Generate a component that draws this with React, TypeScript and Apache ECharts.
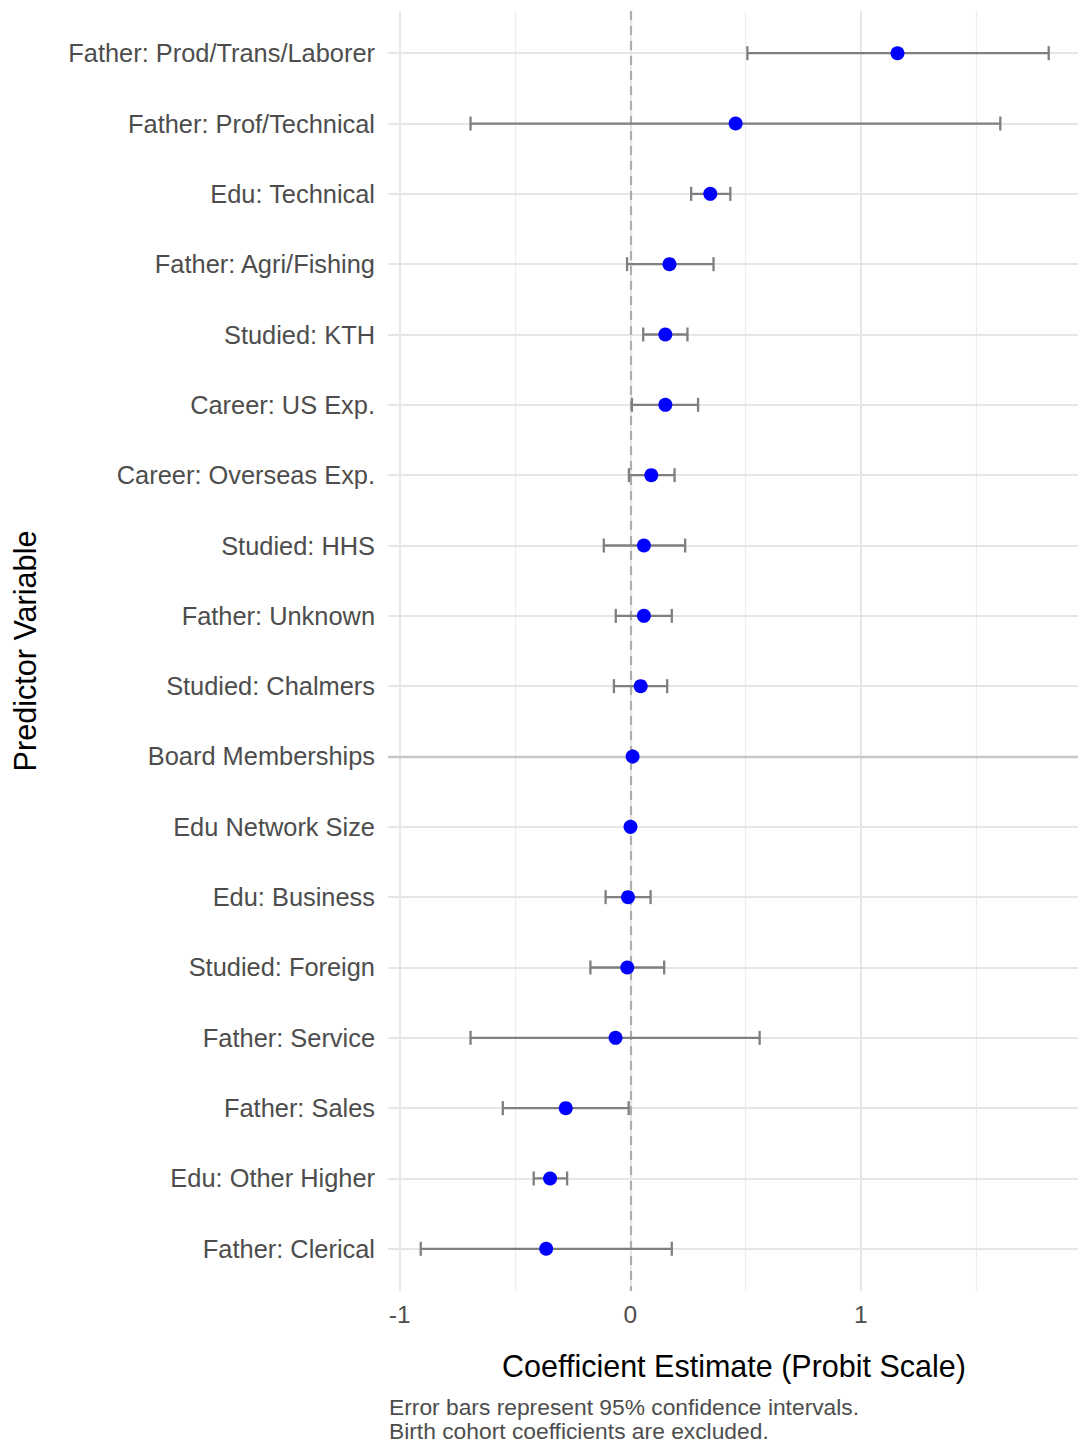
import React, { useEffect, useRef } from "react";
import * as echarts from "echarts";

const categories = [
  "Father: Prod/Trans/Laborer",
  "Father: Prof/Technical",
  "Edu: Technical",
  "Father: Agri/Fishing",
  "Studied: KTH",
  "Career: US Exp.",
  "Career: Overseas Exp.",
  "Studied: HHS",
  "Father: Unknown",
  "Studied: Chalmers",
  "Board Memberships",
  "Edu Network Size",
  "Edu: Business",
  "Studied: Foreign",
  "Father: Service",
  "Father: Sales",
  "Edu: Other Higher",
  "Father: Clerical",
];
const estimates = [1.159, 0.457, 0.347, 0.17, 0.152, 0.152, 0.091, 0.059, 0.059, 0.045, 0.01, 0.001, -0.01, -0.013, -0.064, -0.28, -0.348, -0.365];
const lower = [0.508, -0.693, 0.264, -0.014, 0.056, 0.007, -0.006, -0.115, -0.063, -0.071, 0.008, 0.0, -0.107, -0.173, -0.693, -0.553, -0.419, -0.909];
const upper = [1.815, 1.605, 0.434, 0.361, 0.248, 0.294, 0.192, 0.238, 0.18, 0.16, 0.012, 0.002, 0.088, 0.147, 0.561, -0.007, -0.274, 0.18];
const majorTicks = [-1, 0, 1];
const minorTicks = [-0.5, 0.5, 1.5];
const emphasizedRows = ["Board Memberships"];
const xTitle = "Coefficient Estimate (Probit Scale)";
const yTitle = "Predictor Variable";
const captionLines = ["Error bars represent 95% confidence intervals.", "Birth cohort coefficients are excluded."];

const FONT = "Liberation Sans, Arial, Helvetica, sans-serif";

export default function App() {
  const ref = useRef<HTMLDivElement>(null);
  useEffect(() => {
    document.body.style.margin = "0";
    if (!ref.current) return;
    const chart = echarts.init(ref.current, null, { renderer: "svg" });
    const idx = categories.map((_, i) => i);
    const gridLines: any[] = [];
    majorTicks.forEach((v) =>
      gridLines.push({ xAxis: v, lineStyle: { color: "#e6e6e6", width: 2, type: "solid" } })
    );
    minorTicks.forEach((v) =>
      gridLines.push({ xAxis: v, lineStyle: { color: "#ededed", width: 1.3, type: "solid" } })
    );
    idx.forEach((i) =>
      gridLines.push({
        yAxis: i,
        lineStyle: emphasizedRows.includes(categories[i])
          ? { color: "#c6c6c6", width: 2.4, type: "solid" }
          : { color: "#e6e6e6", width: 2, type: "solid" },
      })
    );

    const option: any = {
      animation: false,
      backgroundColor: "#ffffff",
      grid: { left: 388, right: 0, top: 11, height: 1280 },
      xAxis: {
        type: "value",
        min: -1.051,
        max: 1.942,
        axisLine: { show: false },
        axisTick: { show: false },
        splitLine: { show: false },
        axisLabel: {
          customValues: majorTicks,
          color: "#4d4d4d",
          fontSize: 24.5,
          fontFamily: FONT,
          margin: 11,
          formatter: (v: number) => String(v),
        },
      },
      yAxis: {
        type: "value",
        inverse: true,
        min: -0.6,
        max: 17.6,
        axisLine: { show: false },
        axisTick: { show: false },
        splitLine: { show: false },
        axisLabel: {
          customValues: idx,
          color: "#4d4d4d",
          fontSize: 25.4,
          fontFamily: FONT,
          margin: 13,
          formatter: (v: number) => categories[Math.round(v)] ?? "",
        },
      },
      series: [
        {
          type: "scatter",
          data: [],
          silent: true,
          z: 1,
          markLine: {
            z: 1,
            silent: true,
            symbol: "none",
            label: { show: false },
            data: gridLines,
          },
        },
        {
          type: "scatter",
          data: [],
          silent: true,
          z: 2,
          markLine: {
            z: 2,
            silent: true,
            symbol: "none",
            label: { show: false },
            data: [{ xAxis: 0, lineStyle: { color: "#adadad", width: 2.2, type: [9, 6] } }],
          },
        },
        {
          type: "custom",
          z: 3,
          silent: true,
          data: idx.map((i) => [lower[i], upper[i], i]),
          encode: { x: [0, 1], y: 2 },
          renderItem: (params: any, api: any) => {
            const lo = api.value(0);
            const hi = api.value(1);
            const row = api.value(2);
            const p1 = api.coord([lo, row]);
            const p2 = api.coord([hi, row]);
            const st = { stroke: "#7f7f7f", lineWidth: 2.3 };
            const h = 7;
            return {
              type: "group",
              children: [
                { type: "line", shape: { x1: p1[0], y1: p1[1], x2: p2[0], y2: p2[1] }, style: st },
                { type: "line", shape: { x1: p1[0], y1: p1[1] - h, x2: p1[0], y2: p1[1] + h }, style: st },
                { type: "line", shape: { x1: p2[0], y1: p2[1] - h, x2: p2[0], y2: p2[1] + h }, style: st },
              ],
            };
          },
        },
        {
          type: "scatter",
          z: 4,
          symbol: "circle",
          symbolSize: 14,
          itemStyle: { color: "#0000ff", opacity: 1 },
          data: idx.map((i) => [estimates[i], i]),
        },
      ],
      graphic: [
        {
          type: "text",
          x: 734,
          y: 1366,
          style: {
            text: xTitle,
            fill: "#000000",
            font: `30.5px ${FONT}`,
            textAlign: "center",
            textVerticalAlign: "middle",
          },
        },
        {
          type: "text",
          x: 25,
          y: 651,
          rotation: Math.PI / 2,
          style: {
            text: yTitle,
            fill: "#000000",
            font: `30.6px ${FONT}`,
            textAlign: "center",
            textVerticalAlign: "middle",
          },
        },
        ...captionLines.map((t, k) => ({
          type: "text",
          x: 389,
          y: 1407 + k * 24,
          style: {
            text: t,
            fill: "#4d4d4d",
            font: `22.8px ${FONT}`,
            textAlign: "left",
            textVerticalAlign: "middle",
          },
        })),
      ],
    };
    chart.setOption(option);
    return () => chart.dispose();
  }, []);
  return <div ref={ref} style={{ width: 1078, height: 1446 }} />;
}
